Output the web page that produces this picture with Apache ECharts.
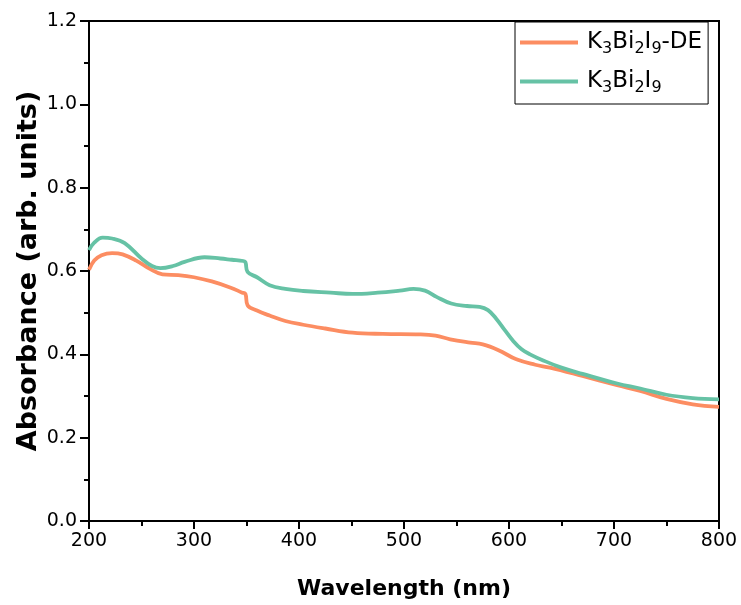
<!DOCTYPE html>
<html><head><meta charset="utf-8">
<script src="https://cdn.jsdelivr.net/npm/echarts@6/dist/echarts.min.js"></script>
<style>html,body{margin:0;padding:0;background:#fff}#c{width:741px;height:605px}</style>
</head><body><div id="c"></div>
<script>
const deWave = [200,205,212,222,232,245,258,270,285,300,317,335,346,349,351,360,372,387,404,425,451,480,515,530,544,563,575,590,607,625,639,670,703,725,750,775,800];
const deAbs  = [0.603,0.625,0.638,0.643,0.640,0.625,0.605,0.592,0.590,0.585,0.575,0.560,0.548,0.545,0.518,0.505,0.493,0.480,0.471,0.462,0.452,0.449,0.448,0.445,0.436,0.428,0.424,0.410,0.388,0.375,0.368,0.348,0.326,0.312,0.293,0.280,0.274];
const kbWave = [200,205,213,222,234,250,260,268,280,291,310,325,336,347,349,351,360,372,387,404,430,451,475,496,509,520,531,545,560,572,580,588,596,604,612,620,632,650,670,703,725,750,775,800];
const kbAbs  = [0.650,0.668,0.680,0.678,0.667,0.630,0.612,0.607,0.612,0.622,0.633,0.630,0.627,0.624,0.621,0.598,0.585,0.566,0.557,0.552,0.548,0.545,0.548,0.553,0.557,0.553,0.538,0.522,0.516,0.514,0.506,0.485,0.458,0.432,0.412,0.400,0.386,0.368,0.353,0.330,0.318,0.303,0.295,0.292];
const seriesNames = ['K3Bi2I9-DE','K3Bi2I9'];
const colors = ['#FC8D62','#66C2A5'];

const chart = echarts.init(document.getElementById('c'));
const F = 'DejaVu Sans, Liberation Sans, Arial, sans-serif';
const pair = (a,b)=>a.map((x,i)=>[x,b[i]]);
chart.setOption({
  animation:false,
  grid:{left:89,right:22,top:21,bottom:80,show:true,borderColor:'#000',borderWidth:2},
  legend:{
    orient:'vertical', left:515, top:22,
    borderColor:'#000', borderWidth:1, padding:[6,6,8,5], itemGap:10,
    itemWidth:58, itemHeight:4, icon:'rect',
    data:seriesNames,
    formatter:function(n){
      return n==='K3Bi2I9-DE' ? '{g|}{n|K}{s|3}{n|Bi}{s|2}{n|I}{s|9}{n|-DE}' : '{g|}{n|K}{s|3}{n|Bi}{s|2}{n|I}{s|9}';
    },
    textStyle:{fontFamily:F, rich:{
      g:{width:4,lineHeight:30},
      n:{fontSize:23,fontFamily:F,color:'#000',lineHeight:30},
      s:{fontSize:16,fontFamily:F,color:'#000',padding:[13,0,0,0],lineHeight:30}
    }}
  },
  xAxis:{type:'value',min:200,max:800,interval:100,
    name:'Wavelength (nm)',nameLocation:'middle',nameGap:57,nameMoveOverlap:false,
    nameTextStyle:{fontFamily:F,fontSize:22,fontWeight:'bold',color:'#000'},
    axisLine:{lineStyle:{color:'#000',width:2}},
    axisTick:{inside:false,length:8,lineStyle:{width:2,color:'#000'}},
    minorTick:{show:true,splitNumber:2,length:5,lineStyle:{color:'#000',width:2}},
    axisLabel:{fontFamily:F,fontSize:19,color:'#000',margin:11},
    splitLine:{show:false}},
  yAxis:{type:'value',min:0,max:1.2,interval:0.2,
    name:'Absorbance (arb. units)',nameLocation:'middle',nameGap:47,nameMoveOverlap:false,
    nameTextStyle:{fontFamily:F,fontSize:27,fontWeight:'bold',color:'#000'},
    axisLine:{show:true,lineStyle:{color:'#000',width:2}},
    axisTick:{show:true,length:9,lineStyle:{width:2,color:'#000'}},
    minorTick:{show:true,splitNumber:2,length:5,lineStyle:{color:'#000',width:2}},
    axisLabel:{fontFamily:F,fontSize:19,color:'#000',margin:12,formatter:v=>v.toFixed(1)},
    splitLine:{show:false}},
  series:[
    {name:seriesNames[0],type:'line',data:pair(deWave,deAbs),showSymbol:false,smooth:0.4,
      lineStyle:{color:colors[0],width:3.8},itemStyle:{color:colors[0]}},
    {name:seriesNames[1],type:'line',data:pair(kbWave,kbAbs),showSymbol:false,smooth:0.4,
      lineStyle:{color:colors[1],width:3.8},itemStyle:{color:colors[1]}}
  ]
});
</script></body></html>
